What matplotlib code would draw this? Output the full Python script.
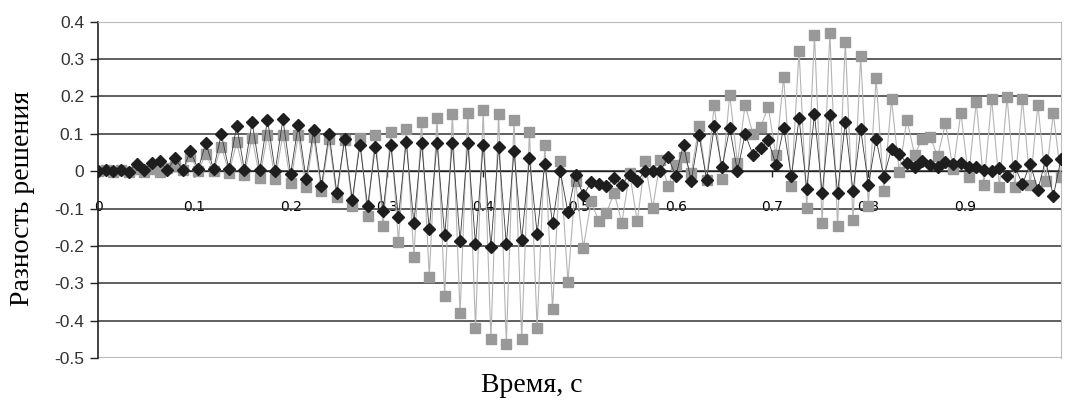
import matplotlib
matplotlib.use("Agg")
import matplotlib.pyplot as plt
import numpy as np

# time step 0.008 s, 126 samples from 0 to 1
t_step = 0.008

# black series (diamonds)
black_vals = [
    0.0, 0.002, 0.0, 0.004, -0.002, 0.02, 0.003, 0.022, 0.027, 0.002,
    0.035, 0.003, 0.054, 0.005, 0.076, 0.005, 0.099, 0.005, 0.122, 0.004,
    0.131, 0.003, 0.138, 0.0, 0.139, -0.008, 0.124, -0.02, 0.111, -0.04,
    0.1, -0.058, 0.085, -0.076, 0.071, -0.094, 0.066, -0.107, 0.071, -0.122,
    0.078, -0.139, 0.075, -0.155, 0.075, -0.172, 0.075, -0.188, 0.075, -0.196,
    0.071, -0.203, 0.065, -0.196, 0.053, -0.185, 0.035, -0.167, 0.02, -0.14,
    0.0, -0.11, -0.01, -0.065, -0.03, -0.034, -0.04, -0.018, -0.036, -0.01,
    -0.027, 0.0, 0.0, 0.0, 0.038, -0.014, 0.071, -0.027, 0.098, -0.023,
    0.12, 0.01, 0.115, 0.0, 0.1, 0.044, 0.061, 0.083, 0.017, 0.116,
    -0.014, 0.141, -0.047, 0.153, -0.059, 0.15, -0.058, 0.132, -0.054, 0.112,
    -0.036, 0.086, -0.016, 0.06, 0.045, 0.022, 0.01, 0.026, 0.017, 0.011,
    0.024, 0.018, 0.022, 0.011, 0.011, 0.004, 0.0, 0.008, -0.014, 0.013,
    -0.035, 0.02, -0.05, 0.031, -0.067, 0.032,
]

# gray series (squares)
gray_vals = [
    0.0, 0.004, -0.002, 0.004, -0.003, 0.005, -0.003, 0.006, -0.002, 0.008,
    0.015, 0.002, 0.04, 0.0, 0.047, 0.0, 0.066, -0.004, 0.077, -0.009,
    0.089, -0.017, 0.098, -0.022, 0.098, -0.031, 0.097, -0.042, 0.091, -0.052,
    0.085, -0.07, 0.084, -0.092, 0.089, -0.119, 0.098, -0.148, 0.105, -0.19,
    0.113, -0.229, 0.131, -0.282, 0.142, -0.335, 0.154, -0.38, 0.157, -0.42,
    0.163, -0.45, 0.154, -0.462, 0.138, -0.45, 0.106, -0.42, 0.071, -0.369,
    0.026, -0.297, -0.025, -0.205, -0.08, -0.134, -0.111, -0.058, -0.138, -0.005,
    -0.134, 0.026, -0.099, 0.031, -0.041, 0.017, 0.039, -0.005, 0.12, -0.023,
    0.178, -0.02, 0.205, 0.022, 0.178, 0.1, 0.118, 0.172, 0.042, 0.252,
    -0.041, 0.322, -0.099, 0.365, -0.139, 0.37, -0.148, 0.347, -0.13, 0.307,
    -0.092, 0.249, -0.052, 0.192, -0.002, 0.138, 0.044, 0.087, 0.092, 0.04,
    0.128, 0.005, 0.157, -0.016, 0.185, -0.036, 0.193, -0.042, 0.198, -0.043,
    0.193, -0.036, 0.178, -0.025, 0.155, -0.016,
]

x_ticks = [0, 0.1, 0.2, 0.3, 0.4, 0.5, 0.6, 0.7, 0.8, 0.9]
x_tick_labels = ["0", "0.1", "0.2", "0.3", "0.4", "0.5", "0.6", "0.7", "0.8", "0.9"]
y_ticks = [0.4, 0.3, 0.2, 0.1, 0, -0.1, -0.2, -0.3, -0.4, -0.5]
y_tick_labels = ["0.4", "0.3", "0.2", "0.1", "0", "-0.1", "-0.2", "-0.3", "-0.4", "-0.5"]

t = np.arange(len(black_vals)) * t_step

fig = plt.figure(figsize=(10.65, 4.09), dpi=100)
ax = fig.add_axes([98 / 1065, 1 - 358 / 409, (1061 - 98) / 1065, (358 - 21.7) / 409])

ax.plot(t, gray_vals, color="#b4b4b4", lw=0.8, marker="s", ms=7,
        mfc="#999999", mec="#999999", zorder=3)
ax.plot(t, black_vals, color="#3a3a3a", lw=0.6, marker="D", ms=6.5,
        mfc="#1e1e1e", mec="#1e1e1e", zorder=4)

ax.set_xlim(0, 1)
ax.set_ylim(-0.5, 0.4)

ax.set_yticks(y_ticks)
ax.set_yticklabels(y_tick_labels, fontsize=12.5, color="#333333", family="Liberation Sans")
ax.set_xticks(x_ticks)
ax.set_xticklabels(x_tick_labels, fontsize=12.5, color="#444444", family="Liberation Sans")

ax.grid(axis="y", color="#333333", lw=1.1)
ax.set_axisbelow(True)

# x axis crosses at zero
ax.spines["bottom"].set_position(("data", 0))
ax.spines["bottom"].set_color("#222222")
ax.spines["bottom"].set_linewidth(1.0)
ax.spines["left"].set_color("#222222")
ax.spines["left"].set_linewidth(1.2)
ax.spines["top"].set_color("#bbbbbb")
ax.spines["right"].set_color("#bbbbbb")
ax.axhline(-0.5, color="#bbbbbb", lw=1.5, zorder=1)

ax.tick_params(axis="y", direction="out", length=6, width=1, pad=4, color="#222222")
ax.tick_params(axis="x", direction="out", length=4, width=1, pad=17, color="#222222")

fig.text(532 / 1065, 1 - 385 / 409, "Время, с", fontsize=20, family="Liberation Serif",
         ha="center", va="center")
fig.text(23 / 1065, 1 - 198 / 409, "Разность решения", fontsize=20, family="Liberation Serif",
         ha="center", va="center", rotation=90)

fig.savefig("out.png", dpi=100)
